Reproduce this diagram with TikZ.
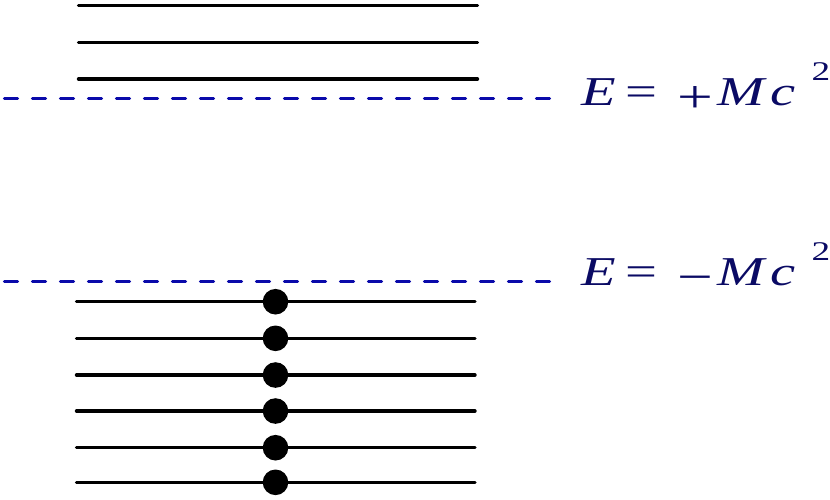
\documentclass[tikz,border=0pt]{standalone}
\usepackage{fontspec}
\setmainfont{Liberation Serif}
\definecolor{levelblue}{RGB}{10,10,170}
\definecolor{labelnavy}{RGB}{10,10,100}
\newcommand\restenergy[1]{\scalebox{1.38}[1]{\makebox[32pt][l]{\itshape E}\makebox[37.5pt][l]{=}\makebox[29.5pt][l]{\raisebox{-7pt}{\fontsize{46}{48}\selectfont #1}}\makebox[38.5pt][l]{\itshape M}\makebox[29.5pt][l]{\itshape c}\raisebox{25pt}{\fontsize{27}{30}\selectfont 2}}}
\begin{document}
\begin{tikzpicture}[x=1pt,y=-1pt]
	\useasboundingbox(0,0)rectangle(830,499);
	\tikzset{level/.style={line width=3.4pt,line cap=round},
		gap/.style={levelblue,line width=3.3pt,line cap=round,dash pattern=on 13pt off 15pt},
		mass/.style={labelnavy,anchor=base west,inner sep=0pt,font=\fontsize{41}{48}\selectfont}}
	% positive energy states
	\draw[level](78.5,5.7)--(477.5,5.7);
	\draw[level](78.5,42.3)--(477.5,42.3);
	\draw[level](78.5,79)--(477.5,79);
	% gap edges
	\draw[gap](4.5,98.7)--(551,98.7);
	\node(Eplus)at(581,105.7)[mass]{\restenergy{+}};
	\draw[gap](4.5,281.7)--(551,281.7);
	\node(Eminus)at(581,285.7)[mass]{\restenergy{−}};
	% filled negative energy sea
	\draw[level](76.5,301.7)--(475,301.7);
	\draw[level](76.5,338.3)--(475,338.3);
	\draw[level](76.5,375)--(475,375);
	\draw[level](76.5,411)--(475,411);
	\draw[level](76.5,447.7)--(475,447.7);
	\draw[level](76.5,482.3)--(475,482.3);
	\fill(275.5,301.7)circle(12.8);
	\fill(275.5,338.3)circle(12.8);
	\fill(275.5,375)circle(12.8);
	\fill(275.5,411)circle(12.8);
	\fill(275.5,447.7)circle(12.8);
	\fill(275.5,482.3)circle(12.8);
\end{tikzpicture}
\end{document}
